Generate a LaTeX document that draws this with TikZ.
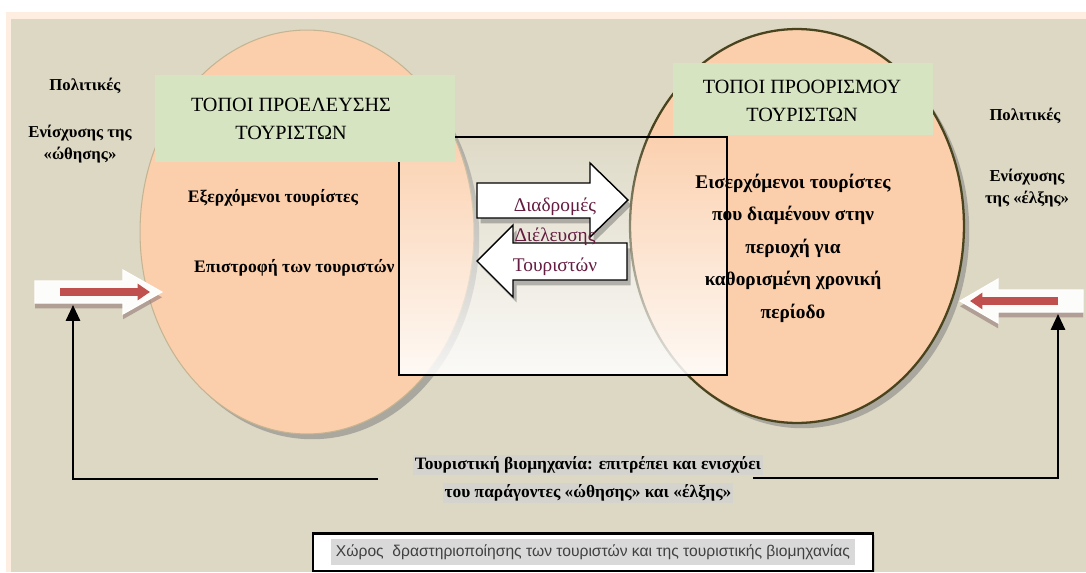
\documentclass[tikz,border=0pt]{standalone}
\usepackage{fontspec}
\setmainfont{Liberation Serif}
\newfontfamily\greeksans{Liberation Sans}
\usetikzlibrary{shapes.geometric,shadows,fadings,arrows.meta}

\definecolor{sandbg}{RGB}{221,216,196}
\definecolor{peach}{RGB}{251,207,172}
\definecolor{sage}{RGB}{214,228,194}
\definecolor{olive}{RGB}{74,68,30}
\definecolor{tanline}{RGB}{196,180,146}
\definecolor{wine}{RGB}{100,28,64}
\definecolor{pushred}{RGB}{192,80,77}
\definecolor{hlgray}{RGB}{212,211,206}

\tikzfading[name=whiten, top color=transparent!95, bottom color=transparent!12]

\tikzset{
	place/.style={
		ellipse,
		fill=peach,
		minimum width=6.68cm,
		drop shadow={shadow xshift=3pt, shadow yshift=-3pt, opacity=.55, fill=black!50}
	},
	titlebox/.style={
		fill=sage,
		inner sep=0pt,
		align=center,
		font=\fontsize{11.5}{16}\selectfont
	},
	placetext/.style={
		align=center,
		font=\bfseries\fontsize{11}{18.5}\selectfont
	},
	policy/.style={
		align=center,
		font=\bfseries\fontsize{9.5}{13}\selectfont
	},
	routearrow/.style={
		fill=white,
		draw=black,
		line width=0.8pt,
		drop shadow={shadow xshift=2pt, shadow yshift=-3pt, opacity=.45, fill=black!60}
	},
	gatearrow/.style={
		fill=white!92!sandbg,
		draw=white,
		line width=0.6pt,
		drop shadow={shadow xshift=0pt, shadow yshift=-3pt, opacity=.6, fill=pushred!40!black!60}
	},
	redflow/.style={
		pushred,
		line width=4pt,
		-{Triangle[width=9pt,length=7pt]}
	},
	feedline/.style={
		line width=1.4pt,
		-{Triangle[width=8pt,length=9pt]}
	},
	industry/.style={
		fill=hlgray,
		inner sep=1pt,
		font=\bfseries\fontsize{9.9}{13}\selectfont
	}
}

\begin{document}
\begin{tikzpicture}[x=0.02cm,y=-0.02cm]
\useasboundingbox (0,0) rectangle (1086,572);
\fill[white] (0,0) rectangle (1086,572);
\fill[peach!35!white] (6,12) rectangle (1086,572);
\fill[sandbg] (11,19) rectangle (1086,572);

% origin and destination
\node[place, draw=tanline, line width=0.6pt, minimum height=8.08cm] (origin) at (307,232) {};
\node[place, draw=olive, line width=1.3pt, minimum height=7.88cm] (destination) at (797,226) {};

% transit zone
\fill[white, path fading=whiten] (399,137) rectangle (727,375);

\node[placetext, font=\bfseries\fontsize{10}{18}\selectfont] (outgoing) at (273,198) {Εξερχόμενοι τουρίστες};
\node[placetext, font=\bfseries\fontsize{10}{18}\selectfont, anchor=west] (returning) at (188,268) {Επιστροφή των τουριστών};
\node[placetext] (incoming) at (793,248) {Εισερχόμενοι τουρίστες\\που διαμένουν στην\\περιοχή για\\καθορισμένη χρονική\\περίοδο};

\draw[line width=0.9pt] (399,137) rectangle (727,375);

\node[titlebox, minimum width=6cm, minimum height=1.74cm] (originTitle) at (305,118.5) {};
\node[titlebox] at (291,119) {ΤΟΠΟΙ ΠΡΟΕΛΕΥΣΗΣ\\ΤΟΥΡΙΣΤΩΝ};
\node[titlebox, minimum width=5.2cm, minimum height=1.44cm] (destinationTitle) at (803,99) {};
\node[titlebox] at (802,101) {ΤΟΠΟΙ ΠΡΟΟΡΙΣΜΟΥ\\ΤΟΥΡΙΣΤΩΝ};

% routes
\draw[routearrow] (477,183) -- (590,183) -- (590,163) -- (628,200) -- (590,237) -- (590,218) -- (477,218) -- cycle;
\draw[routearrow] (627,243) -- (513,243) -- (513,225) -- (477,261) -- (513,297) -- (513,280) -- (627,280) -- cycle;
\node[text=wine, align=center, font=\fontsize{11}{17}\selectfont] (routes) at (555,237) {Διαδρομές\\Διέλευσης\\Τουριστών};

% push and pull
\node[policy] (pushA) at (85,86) {Πολιτικές};
\node[policy] (pushB) at (80,144) {Ενίσχυσης της\\«ώθησης»};
\node[policy] (pullA) at (1025,116) {Πολιτικές};
\node[policy] (pullB) at (1027,188) {Ενίσχυσης\\της «έλξης»};

\draw[gatearrow] (35,281) -- (123,281) -- (123,270) -- (162,292) -- (123,314) -- (123,303) -- (35,303) -- cycle;
\draw[redflow] (60,292) -- (150,292);
\draw[gatearrow] (1083,290) -- (998,290) -- (998,279) -- (960,301) -- (998,323) -- (998,312) -- (1083,312) -- cycle;
\draw[redflow] (1058,301) -- (970,301);

\coordinate (indL) at (378,479);
\coordinate (indR) at (753,478);
\coordinate (pushIn) at (73,305);
\coordinate (pullIn) at (1058,314);
\draw[feedline] (indL) -| (pushIn);
\draw[feedline] (indR) -| (pullIn);

\node[industry] (industryA) at (588,465) {Τουριστική βιομηχανία: επιτρέπει και ενισχύει};
\node[industry] (industryB) at (588,493) {του παράγοντες «ώθησης» και «έλξης»};

\node[draw, line width=1.3pt, fill=white, minimum width=11.2cm, minimum height=0.6cm,
	drop shadow={shadow xshift=1pt, shadow yshift=-1pt, opacity=.3}] (space) at (593,552)
	{\greeksans\fontsize{8.9}{10}\selectfont\color{black!75}\colorbox{black!15}{Χώρος \ δραστηριοποίησης των τουριστών και της τουριστικής βιομηχανίας}};
\end{tikzpicture}
\end{document}
